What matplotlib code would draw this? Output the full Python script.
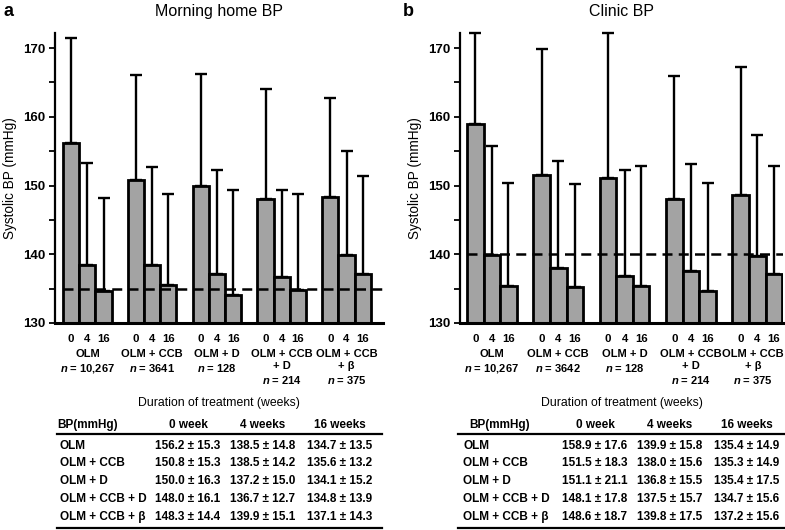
import numpy as np
import matplotlib.pyplot as plt
from matplotlib.lines import Line2D
from matplotlib.ticker import MultipleLocator

plt.rcParams['font.family'] = ['Liberation Sans', 'DejaVu Sans']
plt.rcParams['mathtext.fontset'] = 'custom'
plt.rcParams['mathtext.it'] = 'Liberation Sans:italic:bold'
plt.rcParams['mathtext.rm'] = 'Liberation Sans:bold'

# data (mean ± SD, mmHg)
weeks = ["0", "4", "16"]
week_headers = ["0 week", "4 weeks", "16 weeks"]
groups = ["OLM", "OLM + CCB", "OLM + D", "OLM + CCB + D", "OLM + CCB + β"]
group_ticklabels = ["OLM", "OLM + CCB", "OLM + D", "OLM + CCB\n+ D", "OLM + CCB\n+ β"]
n_home = ["10,267", "3641", "128", "214", "375"]
n_clinic = ["10,267", "3642", "128", "214", "375"]

home_mean = np.array([[156.2, 138.5, 134.7],
                      [150.8, 138.5, 135.6],
                      [150.0, 137.2, 134.1],
                      [148.0, 136.7, 134.8],
                      [148.3, 139.9, 137.1]])
home_sd = np.array([[15.3, 14.8, 13.5],
                    [15.3, 14.2, 13.2],
                    [16.3, 15.0, 15.2],
                    [16.1, 12.7, 13.9],
                    [14.4, 15.1, 14.3]])
clinic_mean = np.array([[158.9, 139.9, 135.4],
                        [151.5, 138.0, 135.3],
                        [151.1, 136.8, 135.4],
                        [148.1, 137.5, 134.7],
                        [148.6, 139.8, 137.2]])
clinic_sd = np.array([[17.6, 15.8, 14.9],
                      [18.3, 15.6, 14.9],
                      [21.1, 15.5, 17.5],
                      [17.8, 15.7, 15.6],
                      [18.7, 17.5, 15.6]])

home_target = 135
clinic_target = 140

W, H = 785, 530
fig = plt.figure(figsize=(W / 100, H / 100), dpi=100)


def rect(l, t, r, b):
    return [l / W, 1 - b / H, (r - l) / W, (b - t) / H]


def panel(ax, mean, sd, target, n_list, xlim, title, letter, letter_x, last_shift=0):
    ymin, ymax = 130, 172.2
    pos = np.array([[4 * i + j for j in range(3)] for i in range(len(groups))], dtype=float)
    x = pos.ravel()
    m = mean.ravel()
    top = np.minimum(m + sd.ravel(), ymax)
    ax.bar(x, m - ymin, bottom=ymin, width=1.0, color="#a3a3a3",
           edgecolor="black", linewidth=2.0, zorder=2)
    ax.errorbar(x, m, yerr=[np.zeros_like(m), top - m], fmt="none",
                ecolor="black", elinewidth=1.7, capsize=4.5, capthick=1.7,
                zorder=1, clip_on=False)
    ax.hlines(target, -0.5, xlim[1], colors="black", linestyles=(0, (4, 2.5)),
              linewidth=1.8, zorder=3)
    ax.set_xlim(*xlim)
    ax.set_ylim(ymin, ymax)
    ax.spines[["top", "right"]].set_visible(False)
    ax.spines["left"].set_linewidth(1.6)
    ax.spines["bottom"].set_linewidth(2.2)
    ax.yaxis.set_major_locator(MultipleLocator(10))
    ax.yaxis.set_minor_locator(MultipleLocator(5))
    ax.tick_params(axis="y", which="both", length=4, width=1.3, pad=3, labelsize=9.5)
    for lab in ax.get_yticklabels():
        lab.set_fontweight("bold")
    ax.set_xticks(x)
    ax.set_xticklabels(weeks * len(groups), fontweight="bold", fontsize=8.2)
    ax.tick_params(axis="x", length=0, pad=8)
    ax.set_ylabel("Systolic BP (mmHg)", fontsize=9.8, labelpad=4)
    for i, (g, n) in enumerate(zip(group_ticklabels, n_list)):
        dx = last_shift if i == len(groups) - 1 else 0
        ax.annotate(g + "\n$\\mathit{n}$ = " + n, xy=(pos[i, 1], 0),
                    xycoords=("data", "axes fraction"), xytext=(dx, -18.5),
                    textcoords="offset points", ha="center", va="top",
                    fontsize=8.0, fontweight="bold", linespacing=1.3,
                    annotation_clip=False)
    ax.text(0.5, -0.275, "Duration of treatment (weeks)", transform=ax.transAxes,
            ha="center", va="center", fontsize=8.8)
    ax.set_title(title, fontsize=11.5, pad=12)
    fig.text(letter_x / W, 1 - 11 / H, letter, fontsize=13, fontweight="bold",
             ha="left", va="center")


def table(mean, sd, x_label, x_cols, x_left, x_right, x_head):
    fs = 8.5
    fig.text(x_head / W, 1 - 425 / H, "BP(mmHg)", ha="center", va="center",
             fontsize=fs, fontweight="bold")
    for xc, h in zip(x_cols, week_headers):
        fig.text(xc / W, 1 - 425 / H, h, ha="center", va="center",
                 fontsize=fs, fontweight="bold")
    fig.add_artist(Line2D([x_left / W, x_right / W], [1 - 434 / H] * 2,
                          color="black", linewidth=1.6))
    row_y = [446, 463.5, 481, 499, 517]
    for i, g in enumerate(groups):
        y = 1 - row_y[i] / H
        fig.text(x_label / W, y, g, ha="left", va="center", fontsize=fs,
                 fontweight="bold")
        for j, xc in enumerate(x_cols):
            fig.text(xc / W, y, f"{mean[i, j]:.1f} ± {sd[i, j]:.1f}", ha="center",
                     va="center", fontsize=fs, fontweight="bold")
    fig.add_artist(Line2D([x_left / W, x_right / W], [1 - 528 / H] * 2,
                          color="black", linewidth=1.6))


ax_a = fig.add_axes(rect(55, 33, 383, 323))
panel(ax_a, home_mean, home_sd, home_target, n_home, (-1.0, 19.25),
      "Morning home BP", "a", 3)
ax_b = fig.add_axes(rect(460, 33, 783, 323))
panel(ax_b, clinic_mean, clinic_sd, clinic_target, n_clinic, (-0.92, 18.55),
      "Clinic BP", "b", 403, last_shift=-3)

table(home_mean, home_sd, 60, [188, 263, 340], 57, 382, 88)
table(clinic_mean, clinic_sd, 463, [595, 670, 747], 458, 785, 500)

fig.savefig("out.png", dpi=100)
